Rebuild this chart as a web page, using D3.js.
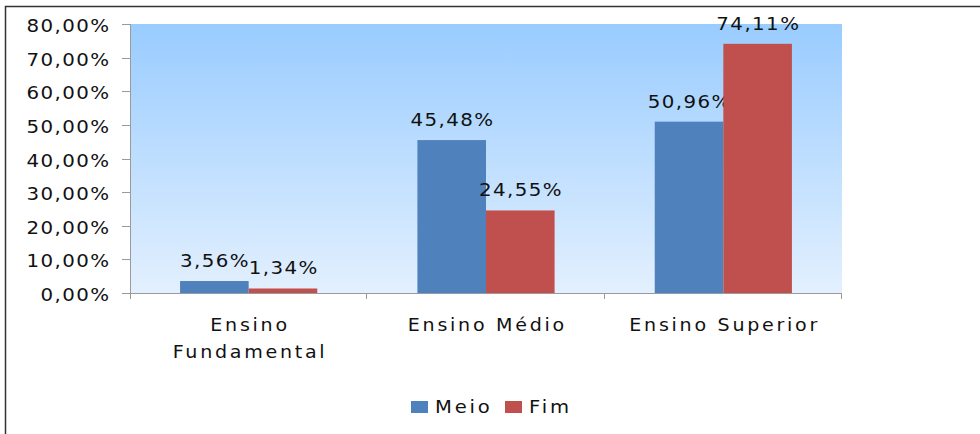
<!DOCTYPE html>
<html><head><meta charset="utf-8">
<script src="https://cdn.jsdelivr.net/npm/d3@7"></script>
<style>
html,body{margin:0;padding:0;background:#fff;}
svg{display:block;font-family:"DejaVu Sans",Verdana,sans-serif;}
</style></head>
<body>
<svg id="c" width="980" height="434"></svg>
<script>
const categories = [["Ensino","Fundamental"],["Ensino Médio"],["Ensino Superior"]];
const seriesNames = ["Meio","Fim"];
const meio = [3.56, 45.48, 50.96];
const fim = [1.34, 24.55, 74.11];
const yTicks = [0,10,20,30,40,50,60,70,80];
const colors = ["#4F81BD","#C0504D"];

const svg = d3.select("#c");
const L=130, R=842, T=24, B=293;
const numLS = 1.3, numSX = 1.1, txtLS = 2.5, txtSX = 1.09;

function label(parent, px, py, str, size, ls, sx, anchor){
  const grp = parent.append("g").attr("transform",`translate(${px},${py}) scale(${sx},1)`);
  const off = anchor==="middle" ? ls/2 : (anchor==="end" ? ls : 0);
  return grp.append("text").attr("x",off).attr("y",0).attr("text-anchor",anchor)
    .attr("font-size",size).attr("letter-spacing",ls).attr("fill","#111").text(str);
}

// outer frame
svg.append("rect").attr("x",5.5).attr("y",6.5).attr("width",1000).attr("height",500)
  .attr("fill","none").attr("stroke","#333").attr("stroke-width",1.5);

const defs = svg.append("defs");
const g = defs.append("linearGradient").attr("id","bg").attr("x1",0).attr("y1",0).attr("x2",0).attr("y2",1);
g.append("stop").attr("offset","0%").attr("stop-color","#99CCFF");
g.append("stop").attr("offset","100%").attr("stop-color","#E3F0FE");
svg.append("rect").attr("x",L).attr("y",T).attr("width",R-L).attr("height",B-T).attr("fill","url(#bg)");

const x = d3.scaleBand().domain(d3.range(categories.length)).range([L,R]).paddingInner(0).paddingOuter(0);
const y = d3.scaleLinear().domain([0,80]).range([B,T]);
const catW = x.bandwidth();
const barW = catW*0.289;
const gap = (catW - 2*barW)/2;

const data = [meio, fim];
data.forEach((vals,si)=>{
  vals.forEach((v,ci)=>{
    const bx = x(ci)+gap+si*barW;
    svg.append("rect").attr("x",bx).attr("y",y(v)).attr("width",barW).attr("height",B-y(v)).attr("fill",colors[si]);
    label(svg, bx+barW/2, y(v)-14, v.toFixed(2).replace(".",",")+"%", 18, numLS, numSX, "middle");
  });
});

// axes
const axisColor="#9A9A9A";
svg.append("line").attr("x1",L+0.5).attr("x2",L+0.5).attr("y1",T).attr("y2",B+6).attr("stroke",axisColor);
svg.append("line").attr("x1",L).attr("x2",R).attr("y1",B+0.5).attr("y2",B+0.5).attr("stroke",axisColor);
yTicks.forEach(t=>{
  svg.append("line").attr("x1",L-8).attr("x2",L).attr("y1",Math.round(y(t))+0.5).attr("y2",Math.round(y(t))+0.5).attr("stroke",axisColor);
  label(svg, 109, y(t)+8, t.toFixed(2).replace(".",",")+"%", 18, numLS, numSX, "end");
});
categories.forEach((c,i)=>{
  const xe = x(i)+catW;
  svg.append("line").attr("x1",Math.round(xe)-0.5).attr("x2",Math.round(xe)-0.5).attr("y1",B).attr("y2",B+6).attr("stroke",axisColor);
  c.forEach((line,li)=>{
    label(svg, x(i)+catW/2, 331+li*26.5, line, 17.5, txtLS, txtSX, "middle");
  });
});

// legend
const legX=[411,505];
seriesNames.forEach((n,i)=>{
  svg.append("rect").attr("x",legX[i]).attr("y",401).attr("width",17).attr("height",12).attr("fill",colors[i]);
  label(svg, legX[i]+24, 413, n, 17.5, txtLS, 1.12, "start");
});
</script>
</body></html>
